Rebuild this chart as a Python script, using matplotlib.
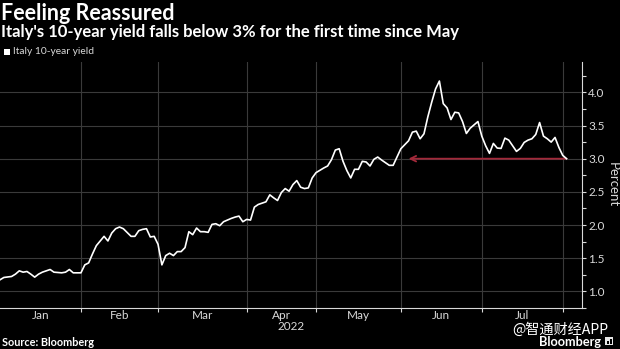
import numpy as np
import pandas as pd
import matplotlib
matplotlib.use("Agg")
import matplotlib.pyplot as plt
import matplotlib.transforms as mtransforms

# ---------------- data ----------------
holidays = ["2022-04-15", "2022-04-18", "2022-04-25", "2022-06-02"]
session = [0, 1, 3, 4, 5, 6, 7, 8, 9, 10, 11, 13, 14, 16, 17, 18, 19, 21, 22, 23,
           24, 25, 26, 27, 28, 29, 30, 31, 32, 34, 35, 36, 37, 38, 39, 40, 41, 42, 43, 44,
           45, 46, 47, 48, 49, 50, 51, 52, 53, 54, 55, 56, 57, 58, 60, 61, 62, 63, 64, 65,
           66, 67, 69, 70, 71, 72, 73, 74, 75, 76, 77, 78, 79, 80, 81, 82, 84, 85, 86, 87,
           88, 89, 90, 91, 92, 93, 94, 95, 96, 97, 98, 99, 100, 101, 102, 103, 104, 106, 107, 108,
           109, 110, 111, 112, 113, 114, 115, 116, 117, 118, 119, 120, 121, 122, 124, 125, 126, 127, 128, 129,
           130, 131, 132, 133, 134, 135, 136, 137, 138, 139, 140, 141, 142, 143, 144, 145, 146, 147]
yield_pct = [1.175, 1.21, 1.225, 1.26, 1.31, 1.29, 1.30, 1.26, 1.215, 1.26, 1.29, 1.33, 1.29, 1.28, 1.29, 1.33, 1.28, 1.28, 1.40, 1.43,
             1.565, 1.69, 1.76, 1.83, 1.76, 1.88, 1.945, 1.97, 1.945, 1.83, 1.83, 1.915, 1.935, 1.945, 1.82, 1.83, 1.71, 1.40, 1.54, 1.575,
             1.54, 1.60, 1.60, 1.66, 1.90, 1.855, 1.955, 1.90, 1.90, 1.89, 2.01, 2.02, 1.99, 2.05, 2.10, 2.12, 2.135, 2.05, 2.085, 2.075,
             2.27, 2.31, 2.35, 2.455, 2.41, 2.37, 2.49, 2.55, 2.51, 2.61, 2.67, 2.57, 2.55, 2.56, 2.71, 2.79, 2.86, 2.89, 2.985, 3.13,
             3.15, 2.96, 2.82, 2.71, 2.84, 2.84, 2.96, 2.95, 2.89, 2.99, 3.025, 2.98, 2.94, 2.90, 2.90, 3.025, 3.15, 3.27, 3.40, 3.415,
             3.30, 3.375, 3.63, 3.85, 4.05, 4.17, 3.83, 3.765, 3.59, 3.70, 3.69, 3.56, 3.38, 3.46, 3.56, 3.34, 3.195, 3.08, 3.23, 3.16,
             3.155, 3.31, 3.28, 3.195, 3.11, 3.155, 3.245, 3.28, 3.30, 3.365, 3.545, 3.34, 3.30, 3.25, 3.32, 3.17, 3.05, 3.00]
month_labels = ["Jan", "Feb", "Mar", "Apr", "May", "Jun", "Jul"]
year_label = "2022"
threshold = 3.0
y_ticks = [1.0, 1.5, 2.0, 2.5, 3.0, 3.5, 4.0]

title = "Feeling Reassured"
subtitle = "Italy's 10-year yield falls below 3% for the first time since May"
legend_label = "Italy 10-year yield"
source = "Source: Bloomberg"
watermark = "@智通财经APP"
brand = "Bloomberg"

# trading-day calendar
cal = pd.bdate_range("2022-01-03", "2022-08-12", freq="C", holidays=holidays)
dates = cal[session]
month_bounds = [0] + [int(np.argmax(cal.month == m)) for m in range(2, 9)]
month_mids = [(a + b) / 2 for a, b in zip(month_bounds[:-1], month_bounds[1:])]

# ---------------- figure ----------------
FG = "#d9d9d9"
GRID = "#3a3a3a"
plt.rcParams["font.family"] = ["Lato", "DejaVu Sans"]

fig = plt.figure(figsize=(6.2, 3.49), dpi=100, facecolor="black")
ax = fig.add_axes([0.0, 1 - 308 / 349, 582 / 620, (308 - 62) / 349])
ax.set_facecolor("black")

ax.plot(session, yield_pct, color="white", lw=1.2, solid_joinstyle="round", zorder=3)

ax.set_xlim(0, 151)
ax.set_ylim(0.864, 4.457)

# grid
ax.set_yticks(y_ticks)
ax.set_yticks(np.arange(0.75, 4.5, 0.5), minor=True)
ax.set_xticks(month_bounds[1:])
ax.set_xticks(month_mids, minor=True)
ax.set_xticklabels([])
ax.set_xticklabels(month_labels, minor=True)
ax.grid(True, which="major", color=GRID, lw=0.8)
ax.set_axisbelow(True)

ax.yaxis.tick_right()
ax.yaxis.set_label_position("right")
ax.set_yticklabels([f"{v:.1f}" for v in y_ticks])
ax.tick_params(axis="y", which="major", colors=FG, labelsize=8.5, length=3, width=0.8, pad=1.5)
ax.tick_params(axis="y", which="minor", colors=FG, length=3, width=0.8)
ax.tick_params(axis="x", which="major", colors=FG, length=3, width=0.8)
ax.tick_params(axis="x", which="minor", colors=FG, length=0, labelsize=8.5, pad=1.5)

for s in ["top", "left"]:
    ax.spines[s].set_visible(False)
for s in ["right", "bottom"]:
    ax.spines[s].set_color(FG)
    ax.spines[s].set_linewidth(0.8)

ax.set_ylabel("Percent", color=FG, fontsize=9.5, rotation=270, labelpad=10)

# year label
trans = mtransforms.blended_transform_factory(ax.transAxes, fig.transFigure)
ax.text(0.5, 1 - 326 / 349, year_label, transform=trans, ha="center", va="center",
        color=FG, fontsize=8.5)

# threshold arrow
last = session[-1]
ax.annotate("", xy=(106, threshold), xytext=(last, threshold),
            arrowprops=dict(arrowstyle="->", color="#a3293a", lw=1.3,
                            mutation_scale=10, shrinkA=0, shrinkB=0), zorder=2)

# titles
fig.text(0.002, 1 - 13 / 349, title, color="white", fontsize=15.5, fontweight="bold",
         ha="left", va="center")
fig.text(0.002, 1 - 32 / 349, subtitle, color="white", fontsize=12, fontweight="bold",
         ha="left", va="center")
fig.patches.append(plt.Rectangle((4 / 620, 1 - 55 / 349), 6 / 620, 6 / 349,
                                 transform=fig.transFigure, facecolor="white",
                                 edgecolor="none"))
fig.text(13 / 620, 1 - 52 / 349, legend_label, color=FG, fontsize=7.4, ha="left", va="center")

fig.text(0.004, 1 - 342 / 349, source, color="white", fontsize=7.8, fontweight="bold",
         ha="left", va="center")
fig.text(608 / 620, 1 - 329.3 / 349, watermark, color="white", fontsize=10.2,
         family=["Noto Sans CJK SC", "DejaVu Sans"], ha="right", va="center")
fig.text(601 / 620, 1 - 341.8 / 349, brand, color="white", fontsize=9.2,
         fontweight="bold", ha="right", va="center")
# small brand icon
fig.patches.append(plt.Rectangle((605 / 620, 1 - 345 / 349), 8 / 620, 8 / 349,
                                 transform=fig.transFigure, facecolor="#e6e6e6",
                                 edgecolor="none"))
for bx, bh in [(607, 3), (610, 5)]:
    fig.patches.append(plt.Rectangle((bx / 620, 1 - 344 / 349), 1.5 / 620, bh / 349,
                                     transform=fig.transFigure, facecolor="black",
                                     edgecolor="none"))

fig.savefig("out.png", dpi=100, facecolor="black")
